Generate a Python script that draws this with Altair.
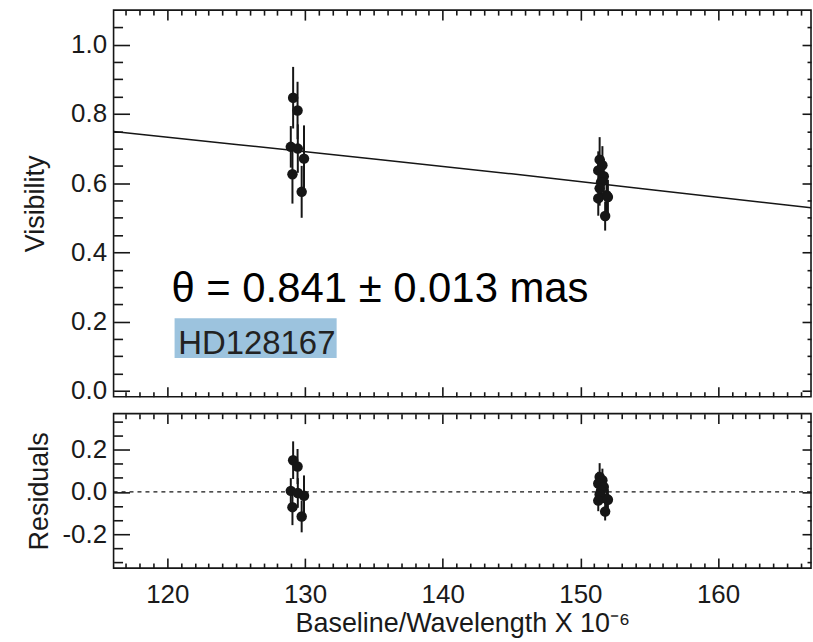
import altair as alt
import pandas as pd

# ---------------- data ----------------
baseline = [129.14, 129.46, 128.97, 129.48, 129.93, 129.09, 129.76,
            151.40, 151.60, 151.30, 151.70, 151.50, 151.40, 151.90, 151.30, 152.00, 151.80]
visibility = [0.847, 0.810, 0.705, 0.700, 0.671, 0.626, 0.575,
              0.668, 0.652, 0.637, 0.620, 0.603, 0.585, 0.565, 0.556, 0.560, 0.505]
vis_error = [0.089, 0.083, 0.060, 0.070, 0.096, 0.085, 0.075,
             0.065, 0.055, 0.055, 0.050, 0.050, 0.050, 0.050, 0.050, 0.050, 0.042]
residuals = [0.150, 0.120, 0.005, -0.005, -0.018, -0.072, -0.116,
             0.071, 0.055, 0.040, 0.023, 0.006, -0.012, -0.032, -0.041, -0.037, -0.093]

model_baseline = [116.1, 125.0, 135.0, 145.0, 155.0, 166.75]
model_visibility = [0.749, 0.712, 0.670, 0.627, 0.582, 0.529]

x_major = [120, 130, 140, 150, 160]
yt_major = [0.0, 0.2, 0.4, 0.6, 0.8, 1.0]
yb_major = [-0.2, 0.0, 0.2]

fit_label = "θ = 0.841 ± 0.013 mas"
star_label = "HD128167"

# ---------------- frames ----------------
pts = pd.DataFrame({"baseline": baseline, "vis": visibility, "err": vis_error, "res": residuals})
model = pd.DataFrame({"baseline": model_baseline, "vis": model_visibility})
one = pd.DataFrame({"k": [0]})

x_minor = [v for v in range(117, 167) if v % 10 != 0]
yt_minor = [round(0.05 * i, 2) for i in range(1, 22) if i % 4 != 0]
yb_minor = [round(v / 15, 4) for v in (-5, -4, -2, -1, 1, 2, 4, 5)]

XS = alt.Scale(domain=[116.1, 166.75], nice=False, zero=False)
YT = alt.Scale(domain=[-0.017, 1.1], nice=False, zero=False)
YB = alt.Scale(domain=[-0.36, 0.37], nice=False, zero=False)

INK = "#161616"
FONT = "Liberation Sans"
W, HT, HB = 700, 388, 155


def axis(orient, values, size, labels=False, title="", **kw):
    return alt.Axis(orient=orient, values=values, tickSize=size, offset=-size,
                    domain=False, grid=False, ticks=True, tickColor=INK, tickWidth=1.6,
                    labels=labels, title=title, **kw)


def frame(yfield, yscale, ymaj, ymin, left_kw, bottom_kw):
    specs = [
        (axis("bottom", x_major, 10, **bottom_kw), axis("left", ymaj, 16, **left_kw)),
        (axis("bottom", x_minor, 5), axis("left", ymin, 9)),
        (axis("top", x_major, 10), axis("right", ymaj, 9)),
        (axis("top", x_minor, 5), axis("right", ymin, 4)),
    ]
    out = []
    for ax_x, ax_y in specs:
        out.append(
            alt.Chart(pts).mark_point(opacity=0).encode(
                x=alt.X("baseline:Q", scale=XS, axis=ax_x),
                y=alt.Y(f"{yfield}:Q", scale=yscale, axis=ax_y),
            )
        )
    return out


# ---------------- top panel ----------------
ann_box = alt.Chart(one).mark_rect(color="#9cc3de").encode(
    x=alt.X(datum=120.53, scale=XS, axis=None), x2=alt.X2(datum=132.3),
    y=alt.Y(datum=0.095, scale=YT, axis=None), y2=alt.Y2(datum=0.210),
)
ann_fit = alt.Chart(one).mark_text(
    text=fit_label, align="left", baseline="alphabetic", font=FONT, fontSize=42, color="#000000"
).encode(x=alt.X(datum=120.30, scale=XS, axis=None), y=alt.Y(datum=0.256, scale=YT, axis=None))
ann_star = alt.Chart(one).mark_text(
    text=star_label, align="left", baseline="alphabetic", font=FONT, fontSize=33, color="#222222"
).encode(x=alt.X(datum=120.80, scale=XS, axis=None), y=alt.Y(datum=0.105, scale=YT, axis=None))

model_line = alt.Chart(model).mark_line(color=INK, strokeWidth=1.5, clip=True).encode(
    x=alt.X("baseline:Q", scale=XS, axis=None), y=alt.Y("vis:Q", scale=YT, axis=None)
)
vis_bars = alt.Chart(pts).transform_calculate(
    lo="datum.vis - datum.err", hi="datum.vis + datum.err"
).mark_rule(color=INK, strokeWidth=2).encode(
    x=alt.X("baseline:Q", scale=XS, axis=None),
    y=alt.Y("lo:Q", scale=YT, axis=None), y2="hi:Q",
)
vis_pts = alt.Chart(pts).mark_circle(color=INK, opacity=1, size=110).encode(
    x=alt.X("baseline:Q", scale=XS, axis=None), y=alt.Y("vis:Q", scale=YT, axis=None)
)

top = alt.layer(
    ann_box, ann_fit, ann_star, model_line, vis_bars, vis_pts,
    *frame("vis", YT, yt_major, yt_minor,
           left_kw=dict(labels=True, title="Visibility", labelExpr="format(datum.value, '.1f')",
                        labelPadding=7, titleX=-94, titleY=HT / 2, titleBaseline="middle"),
           bottom_kw={}),
).resolve_axis(x="independent", y="independent").properties(width=W, height=HT)

# ---------------- bottom panel ----------------
zero_line = alt.Chart(one).mark_rule(color=INK, strokeWidth=1.3, strokeDash=[4, 4]).encode(
    y=alt.Y(datum=0, scale=YB, axis=None)
)
res_bars = alt.Chart(pts).transform_calculate(
    lo="datum.res - datum.err", hi="datum.res + datum.err"
).mark_rule(color=INK, strokeWidth=2).encode(
    x=alt.X("baseline:Q", scale=XS, axis=None),
    y=alt.Y("lo:Q", scale=YB, axis=None), y2="hi:Q",
)
res_pts = alt.Chart(pts).mark_circle(color=INK, opacity=1, size=110).encode(
    x=alt.X("baseline:Q", scale=XS, axis=None), y=alt.Y("res:Q", scale=YB, axis=None)
)

bottom = alt.layer(
    zero_line, res_bars, res_pts,
    *frame("res", YB, yb_major, yb_minor,
           left_kw=dict(labels=True, title="Residuals",
                        labelExpr="replace(format(datum.value, '.1f'), '\u2212', '-')",
                        labelPadding=7, titleX=-90, titleY=HB / 2, titleBaseline="middle"),
           bottom_kw=dict(labels=True, title="Baseline/Wavelength X 10\u207b\u2076",
                          format="d", labelPadding=14, titleY=74, titleBaseline="alphabetic")),
).resolve_axis(x="independent", y="independent").properties(width=W, height=HB)

chart = alt.vconcat(top, bottom, spacing=7).configure(
    padding={"left": 21, "top": 7, "right": 0, "bottom": 0},
    background="white",
).configure_view(
    stroke=INK, strokeWidth=1.6
).configure_axis(
    labelFont=FONT, labelFontSize=26, labelColor="#1a1a1a",
    titleFont=FONT, titleFontSize=27, titleFontWeight="normal", titleColor="#1a1a1a",
)

chart.save("out.html", embed_options={"renderer": "svg", "actions": False})
